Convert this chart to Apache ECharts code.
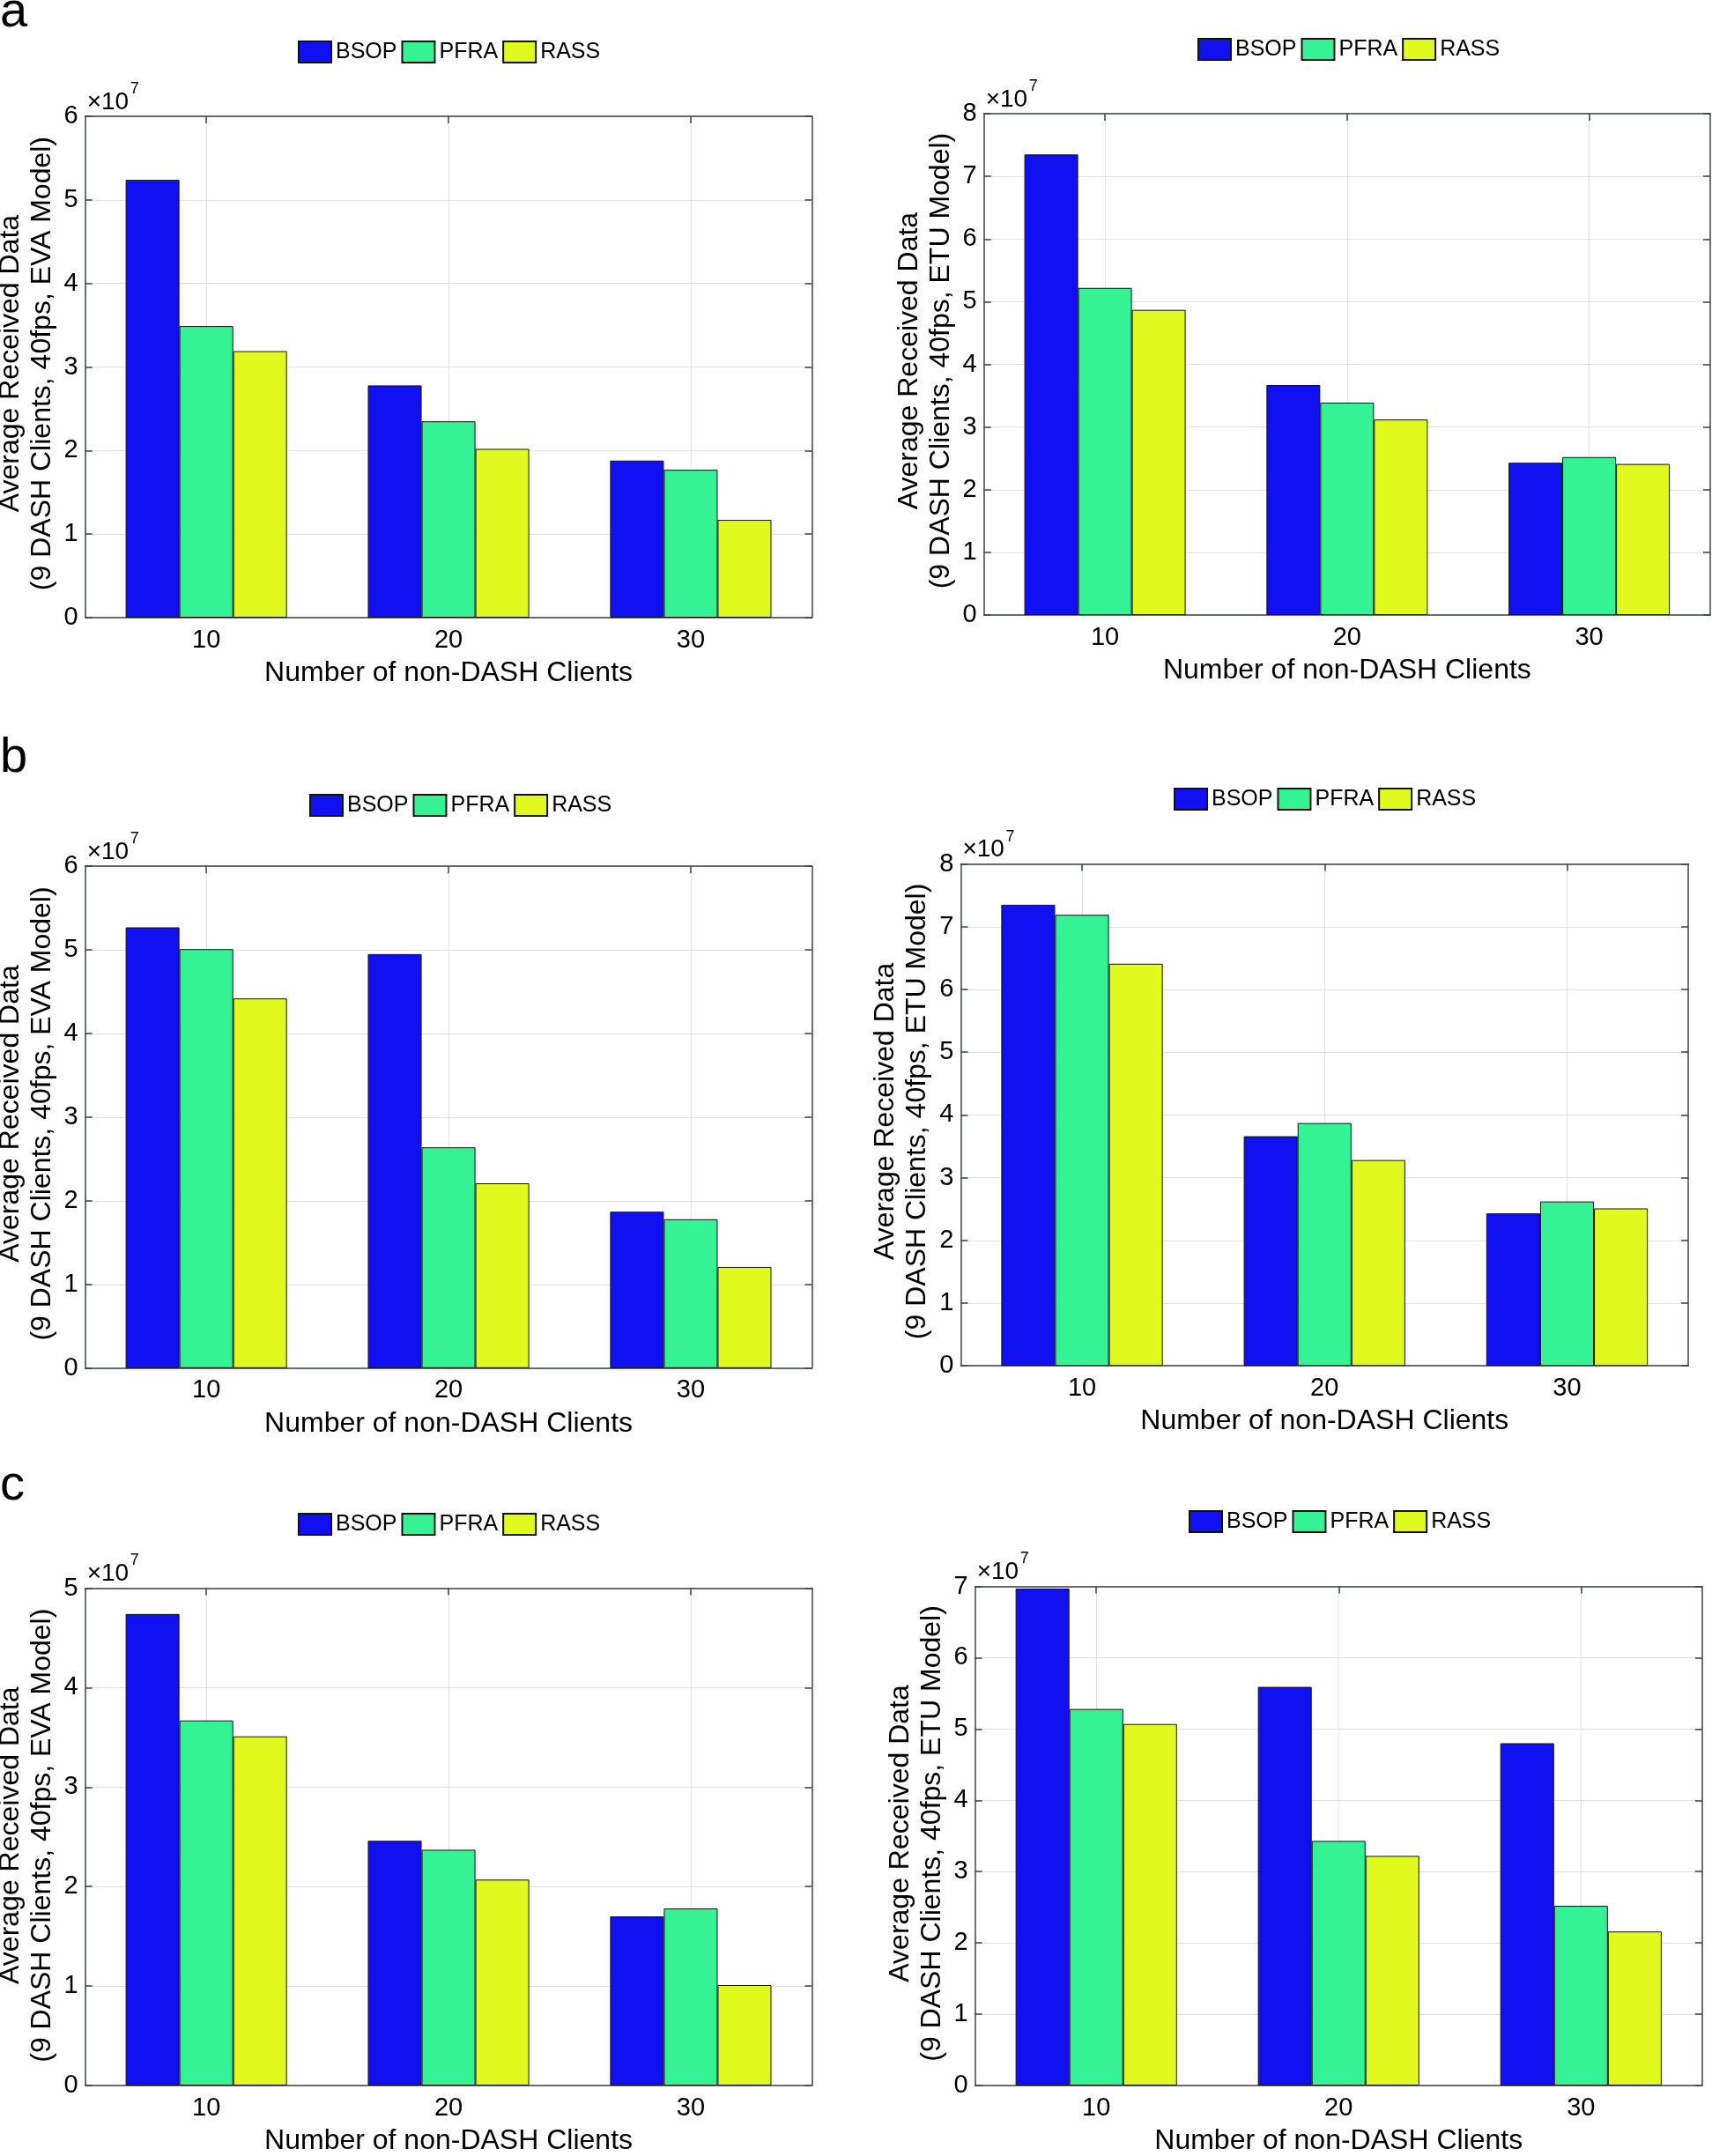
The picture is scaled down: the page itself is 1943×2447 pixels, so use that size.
<!DOCTYPE html>
<html><head><meta charset="utf-8">
<script src="https://cdn.jsdelivr.net/npm/echarts@6/dist/echarts.min.js"></script>
<style>html,body{margin:0;padding:0;background:#fff}#c{width:1943px;height:2447px}</style>
</head><body><div id="c"></div>
<script>
// ---------- data ----------
const categories = ['10', '20', '30'];
const seriesNames = ['BSOP', 'PFRA', 'RASS'];
const panelLetters = ['a', 'b', 'c'];
const xTitle = 'Number of non-DASH Clients';
const yTitleLine1 = 'Average Received Data';
const yTitleEVA = '(9 DASH Clients, 40fps, EVA Model)';
const yTitleETU = '(9 DASH Clients, 40fps, ETU Model)';
const yMaxes = [6, 8, 6, 8, 5, 7];          // axis max, in units of 10^7
const yExponent = 7;

// panel a (left: EVA, right: ETU)
const aEVA_BSOP = [5.24e7, 2.78e7, 1.88e7];
const aEVA_PFRA = [3.49e7, 2.35e7, 1.77e7];
const aEVA_RASS = [3.19e7, 2.02e7, 1.17e7];
const aETU_BSOP = [7.35e7, 3.67e7, 2.43e7];
const aETU_PFRA = [5.22e7, 3.39e7, 2.52e7];
const aETU_RASS = [4.87e7, 3.12e7, 2.41e7];
// panel b
const bEVA_BSOP = [5.27e7, 4.95e7, 1.87e7];
const bEVA_PFRA = [5.01e7, 2.64e7, 1.78e7];
const bEVA_RASS = [4.42e7, 2.21e7, 1.21e7];
const bETU_BSOP = [7.35e7, 3.66e7, 2.43e7];
const bETU_PFRA = [7.19e7, 3.87e7, 2.62e7];
const bETU_RASS = [6.41e7, 3.28e7, 2.51e7];
// panel c
const cEVA_BSOP = [4.74e7, 2.46e7, 1.70e7];
const cEVA_PFRA = [3.67e7, 2.37e7, 1.78e7];
const cEVA_RASS = [3.51e7, 2.07e7, 1.01e7];
const cETU_BSOP = [6.97e7, 5.59e7, 4.80e7];
const cETU_PFRA = [5.28e7, 3.43e7, 2.52e7];
const cETU_RASS = [5.07e7, 3.22e7, 2.16e7];

const panelData = [
  [aEVA_BSOP, aEVA_PFRA, aEVA_RASS],
  [aETU_BSOP, aETU_PFRA, aETU_RASS],
  [bEVA_BSOP, bEVA_PFRA, bEVA_RASS],
  [bETU_BSOP, bETU_PFRA, bETU_RASS],
  [cEVA_BSOP, cEVA_PFRA, cEVA_RASS],
  [cETU_BSOP, cETU_PFRA, cETU_RASS]
];
const panelYTitle2 = [yTitleEVA, yTitleETU, yTitleEVA, yTitleETU, yTitleEVA, yTitleETU];

// ---------- layout / style ----------
const layouts = [
  { l: 96.7,   r: 921.4,  t: 132.1,  b: 701,    lt: 46,   ll: 338 },
  { l: 1116.7, r: 1941,   t: 129.1,  b: 698,    lt: 43,   ll: 1359 },
  { l: 96.7,   r: 921.4,  t: 983.2,  b: 1552.8, lt: 901,  ll: 351 },
  { l: 1090.4, r: 1916.1, t: 980.6,  b: 1550.2, lt: 894,  ll: 1332 },
  { l: 96.7,   r: 921.4,  t: 1802.5, b: 2371.9, lt: 1717, ll: 338 },
  { l: 1106.7, r: 1931.8, t: 1800.5, b: 2369.4, lt: 1714, ll: 1349 }
];
const letterPos = [{ x: 0, y: 15 }, { x: 0, y: 861 }, { x: 0, y: 1687 }];
const colors = ['#1010f0', '#35f394', '#e0fa20'];
const FONT = '"Liberation Sans", Arial, Helvetica, sans-serif';
const axisColor = '#3c4242';
const gridColor = '#dde3e3';

const grid = [], xAxis = [], yAxis = [], series = [], legend = [], graphic = [];

layouts.forEach((L, i) => {
  const w = L.r - L.l, h = L.b - L.t;
  const step = Math.pow(10, yExponent);
  const yMax = yMaxes[i] * step;
  grid.push({ left: L.l, top: L.t, width: w, height: h, containLabel: false });

  // bottom category axis (bars)
  xAxis.push({
    type: 'category', gridIndex: i, data: categories, position: 'bottom', boundaryGap: true,
    axisLine: { show: true, onZero: false, lineStyle: { color: axisColor, width: 1.5 } },
    axisTick: { show: true, inside: true, alignWithLabel: true, length: 8, lineStyle: { color: axisColor, width: 1.5 } },
    axisLabel: { margin: 11, fontSize: 29, color: '#000', fontFamily: FONT },
    splitLine: { show: false },
    name: xTitle, nameLocation: 'middle', nameGap: 47,
    nameTextStyle: { fontSize: 32, color: '#000', fontFamily: FONT }
  });
  // top helper axis: top border, ticks and vertical grid lines at category centres
  const slots = [];
  categories.forEach((c, k) => { slots.push('s' + (2 * k), c); });
  slots.push('s' + (2 * categories.length));
  xAxis.push({
    type: 'category', gridIndex: i, data: slots, position: 'top', boundaryGap: false,
    axisLine: { show: true, onZero: false, lineStyle: { color: axisColor, width: 1.5 } },
    axisTick: { show: true, inside: true, length: 8, interval: (idx) => idx % 2 === 1, lineStyle: { color: axisColor, width: 1.5 } },
    axisLabel: { show: false },
    splitLine: { show: true, interval: (idx) => idx % 2 === 1, lineStyle: { color: gridColor, width: 1 } }
  });
  yAxis.push({
    type: 'value', gridIndex: i, min: 0, max: yMax, interval: step, position: 'left',
    axisLine: { show: true, onZero: false, lineStyle: { color: axisColor, width: 1.5 } },
    axisTick: { show: true, inside: true, length: 8, lineStyle: { color: axisColor, width: 1.5 } },
    axisLabel: { margin: 8, fontSize: 29, color: '#000', fontFamily: FONT, formatter: (v) => String(Math.round(v / step)) },
    splitLine: { show: true, lineStyle: { color: gridColor, width: 1 } }
  });
  yAxis.push({
    type: 'value', gridIndex: i, min: 0, max: yMax, interval: step, position: 'right',
    axisLine: { show: true, onZero: false, lineStyle: { color: axisColor, width: 1.5 } },
    axisTick: { show: true, inside: true, length: 8, lineStyle: { color: axisColor, width: 1.5 } },
    axisLabel: { show: false },
    splitLine: { show: false }
  });

  seriesNames.forEach((n, k) => {
    series.push({
      type: 'bar', name: n, xAxisIndex: 2 * i, yAxisIndex: 2 * i,
      data: panelData[i][k], barWidth: '22.2%', barGap: '0%',
      itemStyle: { color: colors[k], borderColor: '#111', borderWidth: 1 },
      emphasis: { disabled: true }, z: 3
    });
  });

  legend.push({
    data: seriesNames, left: L.ll, top: L.lt, orient: 'horizontal',
    itemWidth: 37, itemHeight: 24, itemGap: 5, padding: 0, icon: 'rect',
    selectedMode: false,
    textStyle: { fontSize: 25, color: '#000', fontFamily: FONT }
  });

  // y-axis title (two lines, rotated)
  graphic.push({
    type: 'text', x: L.l - 67, y: (L.t + L.b) / 2 - 4, rotation: Math.PI / 2,
    style: { text: yTitleLine1 + '\n' + panelYTitle2[i], fontSize: 32, lineHeight: 36, fontFamily: FONT,
      fill: '#000', align: 'center', verticalAlign: 'middle' }
  });
  // x10^7 multiplier
  graphic.push({
    type: 'text', x: L.l + 2, y: L.t - 16,
    style: { text: '\u00d710', fontSize: 28, fontFamily: FONT, fill: '#000', align: 'left', verticalAlign: 'middle' }
  });
  graphic.push({
    type: 'text', x: L.l + 51, y: L.t - 31,
    style: { text: String(yExponent), fontSize: 18, fontFamily: FONT, fill: '#000', align: 'left', verticalAlign: 'middle' }
  });
});

panelLetters.forEach((ch, k) => {
  graphic.push({
    type: 'text', x: letterPos[k].x, y: letterPos[k].y,
    style: { text: ch, fontSize: 56, fontFamily: FONT, fill: '#000', align: 'left', verticalAlign: 'middle' }
  });
});

const chart = echarts.init(document.getElementById('c'), null, { renderer: 'canvas' });
chart.setOption({
  animation: false,
  backgroundColor: '#fff',
  textStyle: { fontFamily: FONT },
  grid, xAxis, yAxis, series, legend, graphic
});
</script>
</body></html>
